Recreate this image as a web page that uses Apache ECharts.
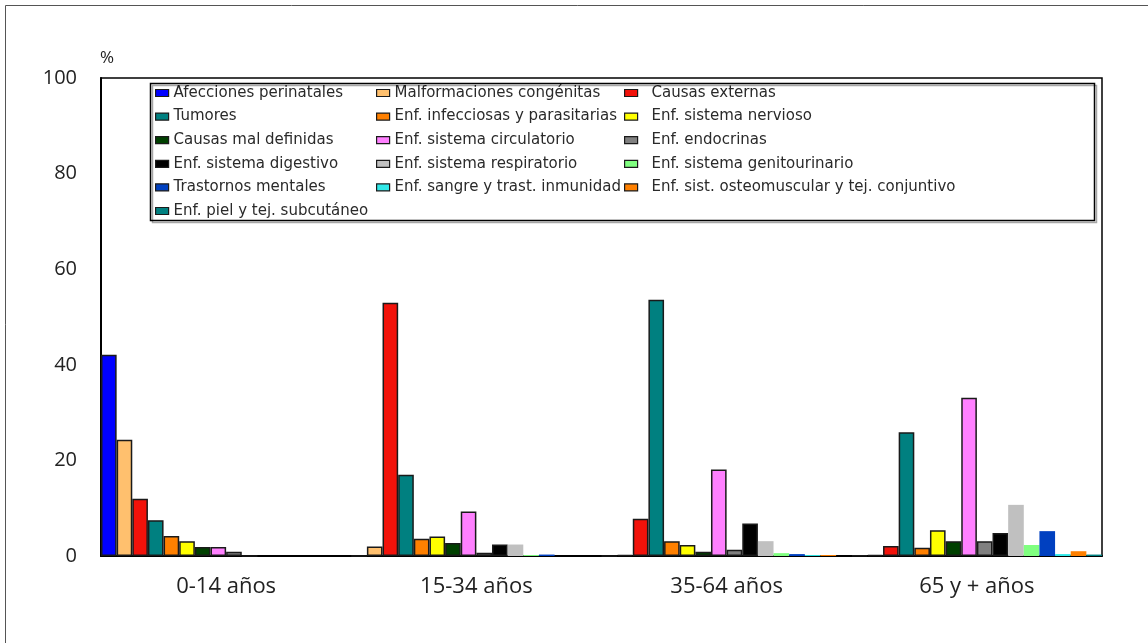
<!DOCTYPE html>
<html>
<head>
<meta charset="utf-8">
<script src="https://cdn.jsdelivr.net/npm/echarts@6/dist/echarts.min.js"></script>
<style>
  html, body { margin: 0; padding: 0; background: #fff; }
  #chart { width: 1148px; height: 643px; }
</style>
</head>
<body>
<div id="chart"></div>
<script>
// Age groups on the category axis
const categories = ['0-14 años', '15-34 años', '35-64 años', '65 y + años'];

// Percentage of deaths by cause, one value per age group
const afecciones     = [42.1, 0,    0,    0.1];
const malformaciones = [24.3, 2.0,  0.2,  0.2];
const causasExternas = [12.0, 53.0, 7.8,  2.1];
const tumores        = [7.5,  17.0, 53.6, 25.9];
const infecciosas    = [4.2,  3.6,  3.1,  1.7];
const nervioso       = [3.1,  4.1,  2.3,  5.4];
const malDefinidas   = [1.9,  2.7,  0.9,  3.1];
const circulatorio   = [1.9,  9.3,  18.1, 33.1];
const endocrinas     = [0.9,  0.7,  1.3,  3.1];
const digestivo      = [0,    2.4,  6.8,  4.8];
const respiratorio   = [0,    2.4,  3.1,  10.7];
const genitourinario = [0,    0.2,  0.6,  2.3];
const mentales       = [0,    0.3,  0.4,  5.2];
const sangre         = [0,    0,    0.2,  0.4];
const osteomuscular  = [0,    0,    0.2,  1.0];
const piel           = [0,    0,    0,    0.3];

// Y axis ticks
const yTicks = [0, 20, 40, 60, 80, 100];

const seriesDefs = [
  { name: 'Afecciones perinatales', data: afecciones, color: '#0000FF', outline: true },
  { name: 'Malformaciones congénitas', data: malformaciones, color: '#FFC06E', outline: true },
  { name: 'Causas externas', data: causasExternas, color: '#F2120A', outline: true },
  { name: 'Tumores', data: tumores, color: '#008080', outline: true },
  { name: 'Enf. infecciosas y parasitarias', data: infecciosas, color: '#FF8000', outline: true },
  { name: 'Enf. sistema nervioso', data: nervioso, color: '#FFFF00', outline: true },
  { name: 'Causas mal definidas', data: malDefinidas, color: '#004000', outline: true },
  { name: 'Enf. sistema circulatorio', data: circulatorio, color: '#FF80FF', outline: true },
  { name: 'Enf. endocrinas', data: endocrinas, color: '#808080', outline: true },
  { name: 'Enf. sistema digestivo', data: digestivo, color: '#000000', outline: true },
  { name: 'Enf. sistema respiratorio', data: respiratorio, color: '#C0C0C0', outline: false },
  { name: 'Enf. sistema genitourinario', data: genitourinario, color: '#80FF80', outline: false },
  { name: 'Trastornos mentales', data: mentales, color: '#0040C0', outline: false },
  { name: 'Enf. sangre y trast. inmunidad', data: sangre, color: '#30E8E8', outline: false },
  { name: 'Enf. sist. osteomuscular y tej. conjuntivo', data: osteomuscular, color: '#FF8000', outline: false },
  { name: 'Enf. piel y tej. subcutáneo', data: piel, color: '#008080', outline: false }
];

const legendFont = { fontFamily: 'DejaVu Sans', fontSize: 15, color: '#2a2a2a', lineHeight: 16 };
const legendSwatch = { borderColor: '#1a1a1a', borderWidth: 1.2 };

// One vertical legend per column; the bottom text padding lifts the label
// slightly above its swatch.
function legendColumn(names, left, extraPad) {
  return {
    orient: 'vertical',
    left: left,
    top: 82,
    padding: 0,
    itemWidth: 13,
    itemHeight: 7,
    itemGap: 1.6,
    icon: 'rect',
    selectedMode: false,
    itemStyle: legendSwatch,
    textStyle: Object.assign({ padding: [0, 0, 6, extraPad] }, legendFont),
    data: names
  };
}

const names = seriesDefs.map(s => s.name);
const col1 = [names[0], names[3], names[6], names[9], names[12], names[15]];
const col2 = [names[1], names[4], names[7], names[10], names[13]];
const col3 = [names[2], names[5], names[8], names[11], names[14]];

const chart = echarts.init(document.getElementById('chart'), null, { renderer: 'canvas' });

chart.setOption({
  animation: false,
  backgroundColor: '#fff',
  grid: {
    left: 101, top: 78, width: 1001, height: 478,
    show: true, borderColor: '#000', borderWidth: 1.5, backgroundColor: 'transparent'
  },
  legend: [
    legendColumn(col1, 155, 0),
    legendColumn(col2, 376, 0),
    legendColumn(col3, 624, 9)
  ],
  xAxis: {
    type: 'category',
    data: categories,
    axisLine: { lineStyle: { color: '#000', width: 2 } },
    axisTick: { show: false },
    axisLabel: { fontFamily: 'Open Sans', fontSize: 22, color: '#222', margin: 19, lineHeight: 24 }
  },
  yAxis: {
    type: 'value',
    min: yTicks[0],
    max: yTicks[yTicks.length - 1],
    interval: yTicks[1] - yTicks[0],
    axisLine: { show: true, lineStyle: { color: '#000', width: 2 } },
    axisTick: { show: false },
    splitLine: { show: false },
    axisLabel: { fontFamily: 'Open Sans', fontSize: 20, color: '#222', margin: 24 }
  },
  graphic: [
    {
      type: 'rect',
      shape: { x: 5.5, y: 5.5, width: 1200, height: 700 },
      style: { fill: 'none', stroke: '#555', lineWidth: 1 },
      silent: true, z: 0
    },
    {
      type: 'rect',
      shape: { x: 150.5, y: 83.5, width: 944, height: 137 },
      style: {
        fill: 'none', stroke: '#000', lineWidth: 1.5,
        shadowColor: 'rgba(0,0,0,0.35)', shadowOffsetX: 2, shadowOffsetY: 2, shadowBlur: 0
      },
      silent: true, z: 5
    },
    {
      type: 'text',
      left: 100, top: 50,
      style: { text: '%', font: '17px "Open Sans"', fill: '#222' },
      silent: true
    }
  ],
  series: seriesDefs.map(s => ({
    name: s.name,
    type: 'bar',
    data: s.data,
    barGap: '0%',
    barCategoryGap: '0%',
    itemStyle: {
      color: s.color,
      borderColor: s.outline ? '#1a1a1a' : s.color,
      borderWidth: s.outline ? 1.5 : 0
    }
  }))
});
</script>
</body>
</html>
